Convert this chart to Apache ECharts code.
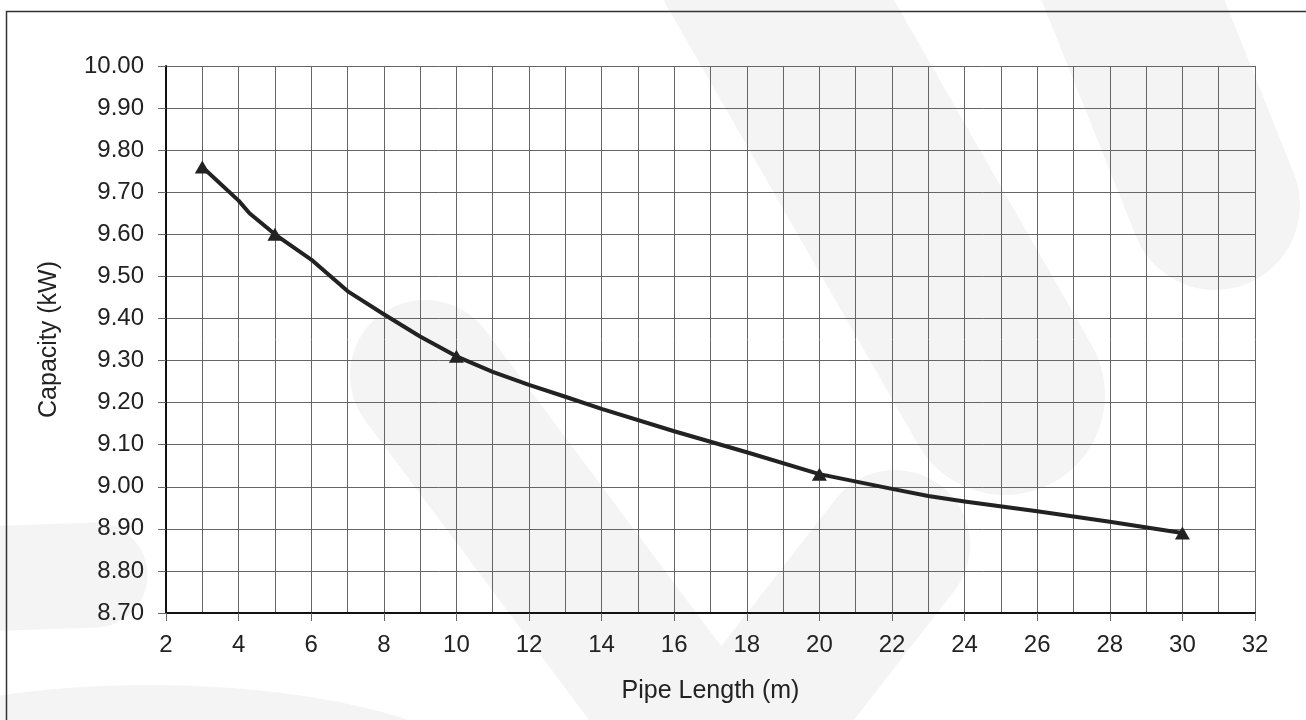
<!DOCTYPE html>
<html>
<head>
<meta charset="utf-8">
<title>Capacity vs Pipe Length</title>
<script src="https://cdn.jsdelivr.net/npm/echarts@6/dist/echarts.min.js"></script>
<style>
  html, body { margin: 0; padding: 0; background: #fff; }
  #chart { width: 1306px; height: 720px; }
</style>
</head>
<body>
<div id="chart"></div>
<script>
  // curve
  var pipeLength = [3, 4, 4.3, 5, 6, 7, 8, 9, 10, 11, 12, 13, 14, 16, 18, 20, 22, 23, 24, 26, 28, 30]
  var capacity = [9.76, 9.68, 9.65, 9.60, 9.54, 9.465, 9.41, 9.357, 9.31, 9.273, 9.242, 9.214, 9.185, 9.132, 9.082, 9.03, 8.995, 8.978, 8.965, 8.942, 8.917, 8.89]
  // triangle markers
  var markLength = [3, 5, 10, 20, 30]
  var markCapacity = [9.76, 9.60, 9.31, 9.03, 8.89]

  var xName = 'Pipe Length (m)'
  var yName = 'Capacity (kW)'
  var font = '"Liberation Sans", Arial, sans-serif'
  var gridColor = '#666'

  var curveData = pipeLength.map(function (x, i) { return [x, capacity[i]] })
  var markData = markLength.map(function (x, i) { return [x, markCapacity[i]] })

  // faint watermark bands behind the chart
  function band (x1, y1, x2, y2, w) {
    var dx = x2 - x1, dy = y2 - y1
    return {
      type: 'rect', z: -10, silent: true,
      x: x1, y: y1,
      rotation: -Math.atan2(dy, dx),
      shape: { x: -w / 2, y: -w / 2, width: Math.sqrt(dx * dx + dy * dy) + w, height: w, r: w / 2 },
      style: { fill: '#f4f4f4' }
    }
  }

  var chart = echarts.init(document.getElementById('chart'))
  var option = {
    backgroundColor: '#fff',
    animation: false,
    graphic: [
      band(730, -85, 1005, 395, 200),
      band(1085, -120, 1215, 205, 170),
      band(425, 375, 720, 770, 150),
      band(720, 770, 895, 545, 150),
      band(-200, 585, 95, 575, 105),
      { type: 'ellipse', z: -10, silent: true, shape: { cx: 150, cy: 800, rx: 360, ry: 115 }, style: { fill: '#f4f4f4' } },
      {
        type: 'rect', z: 100, silent: true,
        shape: { x: 6.5, y: 11.5, width: 1400, height: 900 },
        style: { fill: 'none', stroke: '#333', lineWidth: 1.5 }
      }
    ],
    grid: { left: 166, top: 66, right: 51, bottom: 107 },
    xAxis: {
      type: 'value',
      min: 2, max: 32, interval: 2,
      name: xName,
      nameLocation: 'middle',
      nameGap: 66,
      nameTextStyle: { fontFamily: font, fontSize: 25, color: '#222' },
      axisLine: { show: true, onZero: false, lineStyle: { color: '#111', width: 2 } },
      axisTick: { show: true, length: 8, lineStyle: { color: gridColor, width: 1 } },
      axisLabel: { fontFamily: font, fontSize: 24, color: '#222', margin: 20 },
      splitLine: { show: true, lineStyle: { color: gridColor, width: 1 } },
      minorTick: { show: false, splitNumber: 2 },
      minorSplitLine: { show: true, lineStyle: { color: gridColor, width: 1 } }
    },
    yAxis: {
      type: 'value',
      min: 8.7, max: 10, interval: 0.1,
      name: yName,
      nameLocation: 'middle',
      nameGap: 104,
      nameTextStyle: { fontFamily: font, fontSize: 25, color: '#222' },
      axisLine: { show: true, onZero: false, lineStyle: { color: '#111', width: 2 } },
      axisTick: { show: true, length: 8, lineStyle: { color: gridColor, width: 1 } },
      axisLabel: {
        fontFamily: font, fontSize: 24, color: '#222', margin: 22,
        formatter: function (v) { return v.toFixed(2) }
      },
      splitLine: { show: true, lineStyle: { color: gridColor, width: 1 } }
    },
    series: [
      {
        type: 'line',
        data: curveData,
        showSymbol: false,
        symbol: 'none',
        smooth: false,
        lineStyle: { color: '#222', width: 4, join: 'round', cap: 'round' },
        z: 3
      },
      {
        type: 'scatter',
        data: markData,
        symbol: 'triangle',
        symbolSize: [15, 13],
        itemStyle: { color: '#222', opacity: 1 },
        z: 4
      }
    ]
  }
  chart.setOption(option)
</script>
</body>
</html>
